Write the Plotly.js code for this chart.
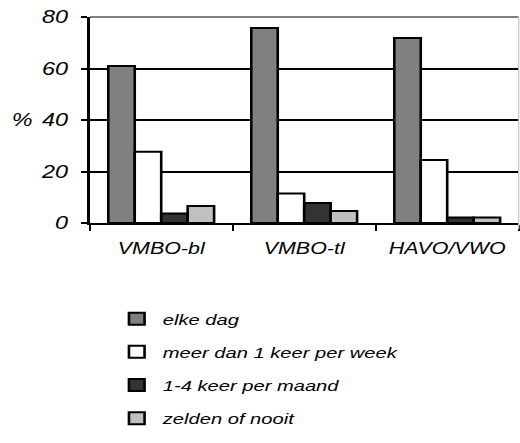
<!DOCTYPE html>
<html>
<head>
<meta charset="utf-8">
<script src="https://cdn.plot.ly/plotly-3.0.1.min.js"></script>
<style>
  html, body { margin: 0; padding: 0; background: #fff; overflow: hidden; }
  #wrap { width: 520px; height: 443px; overflow: hidden; }
  #chart { width: 400px; height: 443px; transform: scaleX(1.3); transform-origin: 0 0; }
</style>
</head>
<body>
<div id="wrap"><div id="chart"></div></div>
<script>
// Data (percentages)
const categories = ["VMBO-bl", "VMBO-tl", "HAVO/VWO"];
const seriesNames = ["elke dag", "meer dan 1 keer per week", "1-4 keer per maand", "zelden of nooit"];
const elkeDag = [61.0, 75.7, 71.8];
const meerDan1KeerPerWeek = [27.7, 11.5, 24.5];
const keer1tot4PerMaand = [3.7, 7.8, 2.1];
const zeldenOfNooit = [6.6, 4.7, 2.1];
const yTicks = [0, 20, 40, 60, 80];

const seriesValues = [elkeDag, meerDan1KeerPerWeek, keer1tot4PerMaand, zeldenOfNooit];
const colors = ["#808080", "#ffffff", "#333333", "#c0c0c0"];

const traces = seriesValues.map((vals, i) => ({
  type: "bar",
  name: seriesNames[i],
  x: categories,
  y: vals,
  legendgroup: "g" + i,
  marker: { color: colors[i], line: { color: "#000", width: 2 } },
  hoverinfo: "skip"
}));

const layout = {
  width: 400,
  height: 443,
  margin: { l: 69, r: 1, t: 17, b: 220, autoexpand: false },
  paper_bgcolor: "#fff",
  plot_bgcolor: "#fff",
  font: { family: "Liberation Sans, Arial, sans-serif", style: "italic", color: "#000", size: 16 },
  barmode: "group",
  bargap: 0.26,
  bargroupgap: 0,
  showlegend: true,
  legend: {
    orientation: "v",
    xref: "container", yref: "container",
    x: 0.213, y: 0.318, xanchor: "left", yanchor: "top",
    font: { size: 15.5, style: "italic" },
    tracegroupgap: 10,
    traceorder: "grouped",
    bgcolor: "rgba(0,0,0,0)"
  },
  xaxis: {
    type: "category",
    tickson: "boundaries",
    ticks: "outside",
    ticklen: 6,
    tickwidth: 1.5,
    tickcolor: "#000",
    showline: true,
    linecolor: "#000",
    linewidth: 2,
    showgrid: false,
    tickangle: 0,
    automargin: false,
    tickfont: { size: 16.5, style: "italic" },
    ticklabelstandoff: 9,
    fixedrange: true
  },
  yaxis: {
    range: [0, 80],
    tickvals: yTicks,
    ticktext: yTicks.map(String),
    ticks: "outside",
    ticklen: 5,
    tickwidth: 2,
    tickcolor: "#000",
    showline: true,
    linecolor: "#000",
    linewidth: 2,
    showgrid: true,
    gridcolor: "#000",
    gridwidth: 2,
    zeroline: false,
    automargin: false,
    tickfont: { size: 18, style: "italic" },
    ticklabelstandoff: 6,
    fixedrange: true
  },
  shapes: [
    { type: "line", xref: "paper", yref: "y domain", x0: 0, x1: 1, y0: 1, y1: 1,
      line: { color: "#808080", width: 2 } },
    { type: "line", xref: "paper", yref: "paper", x0: 1, x1: 1, y0: -0.03, y1: 1,
      line: { color: "#c8c8c8", width: 1 } }
  ],
  annotations: [
    { text: "%", xref: "paper", yref: "y", x: -0.157, y: 40, xanchor: "center", yanchor: "middle",
      showarrow: false, font: { size: 18, style: "italic" } }
  ]
};

Plotly.newPlot("chart", traces, layout, { staticPlot: true, displayModeBar: false });
</script>
</body>
</html>
